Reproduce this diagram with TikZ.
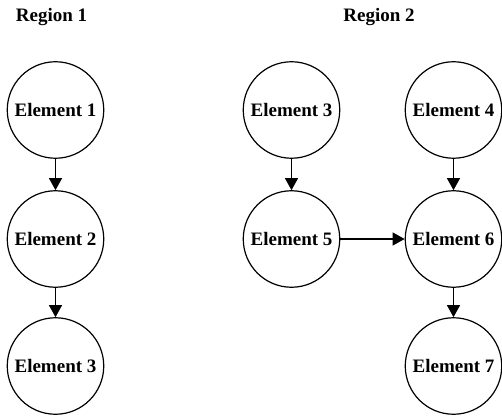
\documentclass[tikz,border=0pt]{standalone}
\usepackage{fontspec}
\setmainfont{Liberation Serif}
\usetikzlibrary{arrows.meta}
\begin{document}
\begin{tikzpicture}[x=1pt,y=1pt,
  elem/.style={circle,draw=black,line width=1.2pt,minimum size=96.5pt,inner sep=0pt,font=\bfseries\fontsize{19}{22}\selectfont},
  reg/.style={font=\bfseries\fontsize{19}{22}\selectfont},
  conn/.style={line width=1.2pt,-{Triangle[length=12pt,width=13pt]}}]
\useasboundingbox (0,0) rectangle (502,415);
\node[reg] (r1) at (51.5,398) {Region 1};
\node[reg] (r2) at (379,398) {Region 2};
\node[elem] (e1) at (55.5,305) {Element 1};
\node[elem] (e2) at (55.5,176) {Element 2};
\node[elem] (e3) at (55.5,49) {Element 3};
\node[elem] (f3) at (291.5,305) {Element 3};
\node[elem] (f4) at (453.5,305) {Element 4};
\node[elem] (f5) at (291.5,176) {Element 5};
\node[elem] (f6) at (453.5,176) {Element 6};
\node[elem] (f7) at (453.5,49) {Element 7};
\draw[conn] (e1) -- (e2);
\draw[conn] (e2) -- (e3);
\draw[conn] (f3) -- (f5);
\draw[conn] (f4) -- (f6);
\draw[conn] (f5) -- (f6);
\draw[conn] (f6) -- (f7);
\end{tikzpicture}
\end{document}
